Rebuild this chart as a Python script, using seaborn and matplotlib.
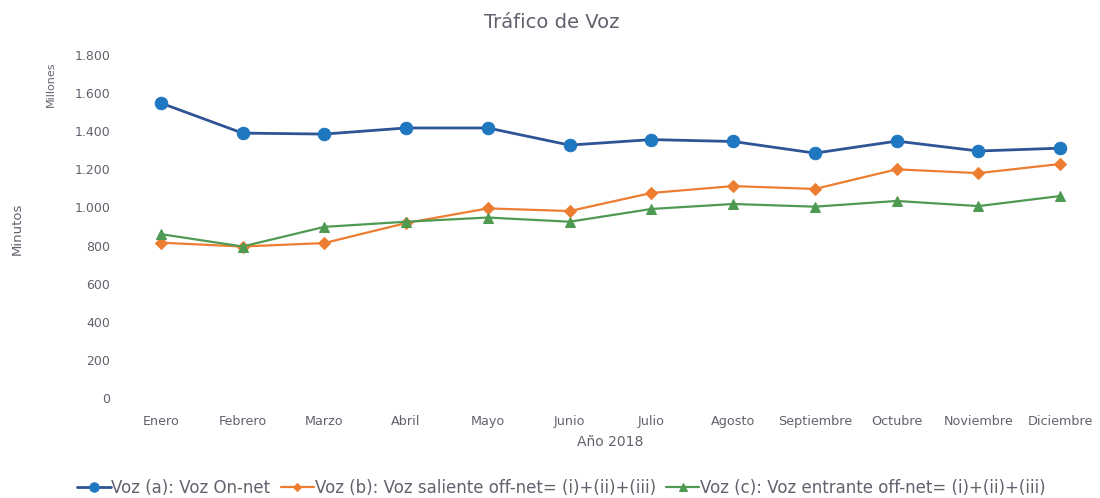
import matplotlib
matplotlib.use("Agg")
import matplotlib.pyplot as plt
import seaborn as sns
import pandas as pd
from matplotlib.ticker import FuncFormatter, FixedLocator

meses = ["Enero", "Febrero", "Marzo", "Abril", "Mayo", "Junio", "Julio",
         "Agosto", "Septiembre", "Octubre", "Noviembre", "Diciembre"]
voz_a = [1548, 1390, 1385, 1417, 1417, 1327, 1356, 1346, 1285, 1348, 1296, 1311]
voz_b = [815, 795, 813, 918, 995, 981, 1076, 1112, 1097, 1200, 1180, 1228]
voz_c = [860, 795, 898, 925, 947, 925, 992, 1018, 1004, 1034, 1007, 1060]
labels = ["Voz (a): Voz On-net",
          "Voz (b): Voz saliente off-net= (i)+(ii)+(iii)",
          "Voz (c): Voz entrante off-net= (i)+(ii)+(iii)"]

sns.set_theme(style="white")
plt.rcParams['font.family'] = ['DejaVu Sans']
gray = "#62626e"

fig = plt.figure(figsize=(11, 4.98), dpi=100)
ax = fig.add_axes([0.109, 0.2008, 0.892, 0.6888])

idx = list(range(len(meses)))
series = [
    (voz_a, "#2F5496", "#1F77C0", "o", 9),
    (voz_b, "#ED7D31", "#ED7D31", "D", 6),
    (voz_c, "#4E9A52", "#4E9A52", "^", 7),
]
for (vals, lc, mc, mk, ms), lab in zip(series, labels):
    df = pd.DataFrame({"x": idx, "y": vals})
    sns.lineplot(data=df, x="x", y="y", ax=ax, color=lc, marker=mk,
                 markersize=ms, markerfacecolor=mc, markeredgecolor=mc,
                 linewidth=2 if mk == "o" else 1.6, label=lab)

ax.set_ylim(0, 1800)
ax.set_xlim(-0.5, len(meses) - 0.5)
ax.yaxis.set_major_locator(FixedLocator(list(range(0, 1801, 200))))
ax.yaxis.set_major_formatter(FuncFormatter(lambda v, p: f"{int(v):,}".replace(",", ".")))
ax.set_xticks(idx)
ax.set_xticklabels(meses)
ax.tick_params(axis="x", colors=gray, labelsize=9.2, length=0, pad=12)
ax.tick_params(axis="y", colors=gray, labelsize=9, length=0, pad=7)
for s in ax.spines.values():
    s.set_visible(False)
ax.grid(False)

ax.set_xlabel("Año 2018", color=gray, fontsize=10, labelpad=5)
ax.set_ylabel("")
fig.text(0.016, 0.54, "Minutos", rotation=90, color=gray, fontsize=9.5, ha="center", va="center")
fig.text(0.046, 0.83, "Millones", rotation=90, color=gray, fontsize=8, ha="center", va="center")
fig.text(0.502, 0.955, "Tráfico de Voz", color=gray, fontsize=14, ha="center", va="center")

leg = ax.legend(loc="center", bbox_to_anchor=(0.45, -0.262), ncol=3, frameon=False,
                fontsize=12, labelcolor=gray, handlelength=2.0, handletextpad=0.05,
                columnspacing=0.6, markerscale=0.75)

fig.savefig("out.png", dpi=100, facecolor="white")
